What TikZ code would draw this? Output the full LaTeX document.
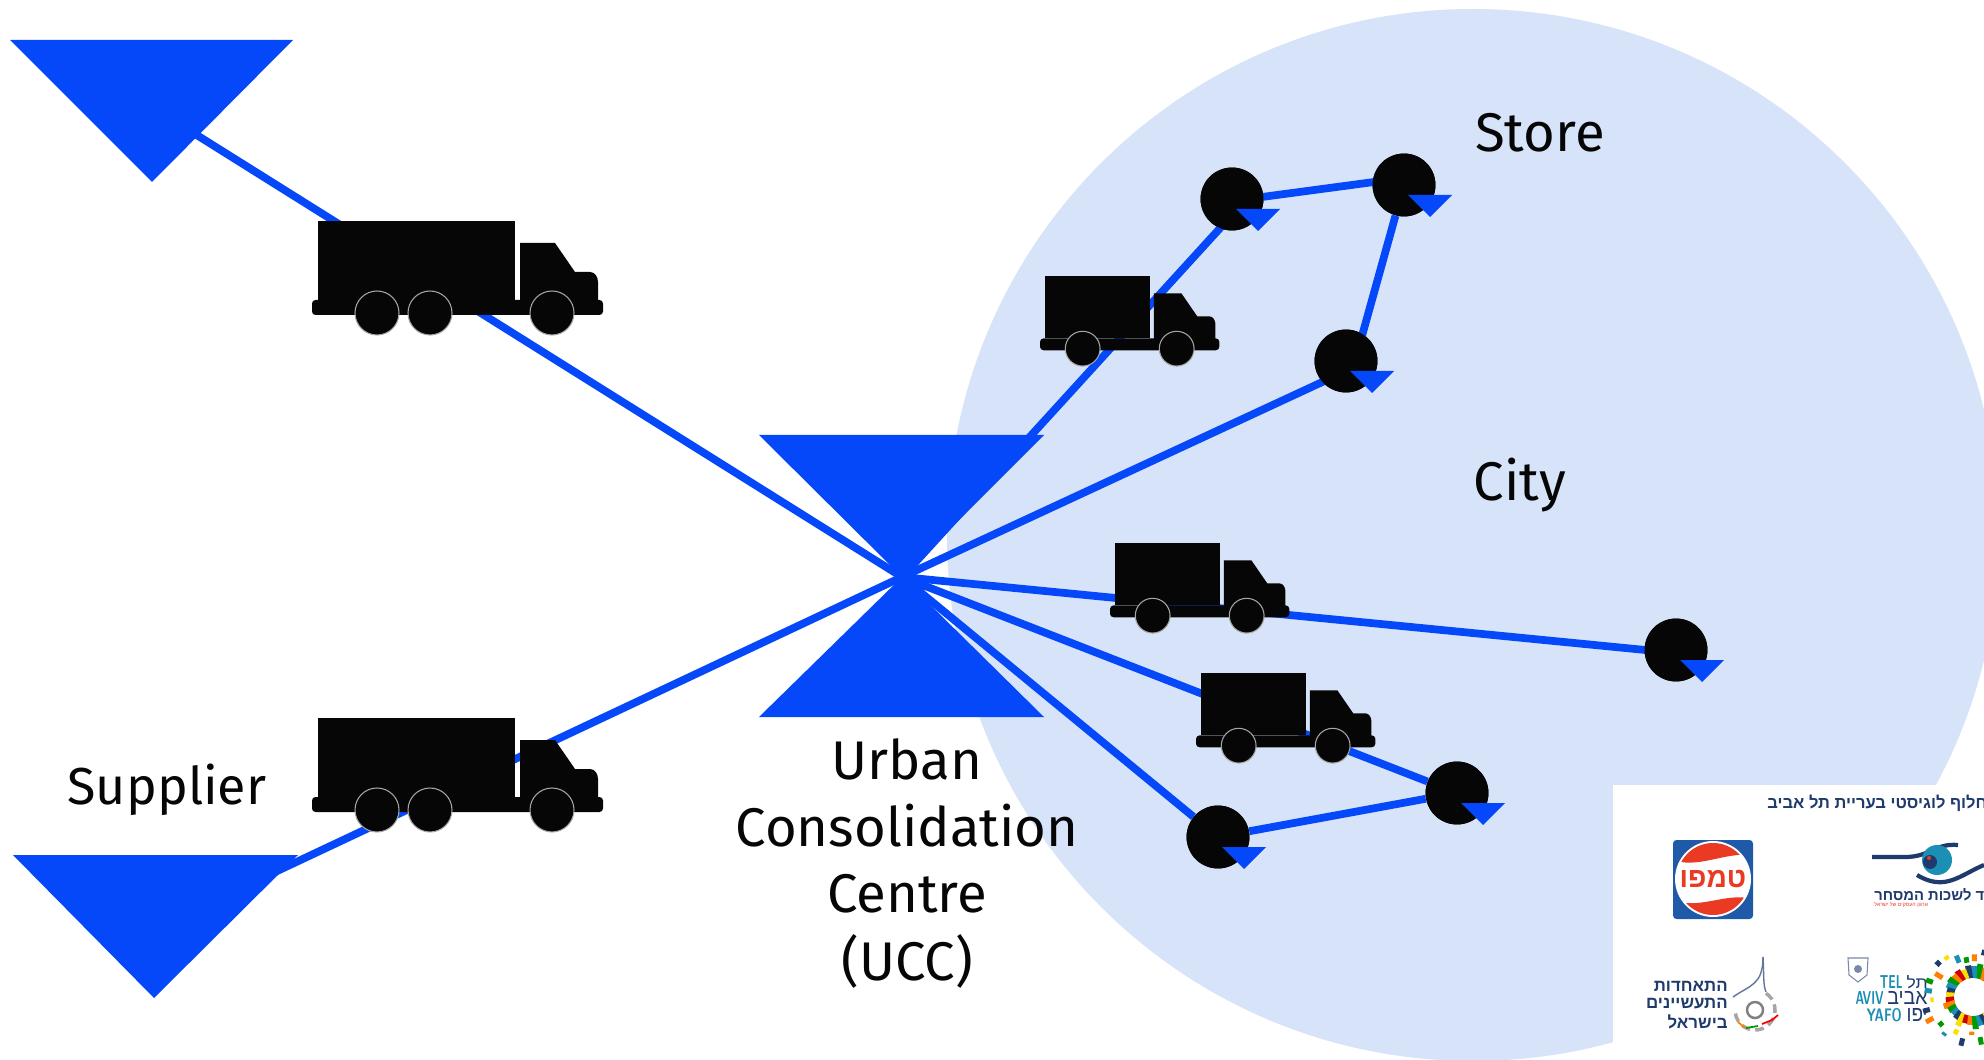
\documentclass[tikz,border=0pt]{standalone}
\usepackage{fontspec}
\usepackage{graphicx}
\setmainfont{Fira Sans}
\newfontfamily\heb[Script=Hebrew]{Liberation Sans}
\TeXXeTstate=1
\definecolor{lineblue}{HTML}{0548FA}
\definecolor{cityblue}{HTML}{D7E3F8}
\definecolor{ink}{HTML}{060606}
\definecolor{navy}{HTML}{1F3B6E}
\definecolor{tealx}{HTML}{1C8FB5}
\definecolor{tempored}{HTML}{EA3A24}
\definecolor{tempoblue}{HTML}{1F5AA8}
\newcommand{\drawtruck}[5]{%
  \begin{scope}[shift={(#1,#2)},scale=#3]
    \fill[ink] (6,0) rectangle (#4+6,79);
    \fill[ink,rounded corners=2pt] (0,79) rectangle (#4+94,94);
    \fill[ink] (#4+11,22) -- (#4+46,22) -- (#4+66,51) -- (#4+81,51) to[out=0,in=90] (#4+89,61) -- (#4+89,80) -- (#4+11,80) -- cycle;
    \foreach \wx in {#5}{\draw[black!35,line width=.6pt,fill=ink] (\wx,92) circle (22);}
  \end{scope}}
\tikzset{
  link/.style={draw=lineblue,line width=4.4pt},
  store/.style={circle,fill=ink,inner sep=0pt,minimum size=35.8pt},
  bigtext/.style={font=\fontsize{31}{31}\selectfont,text=ink,inner sep=0pt,anchor=center},
  hebtext/.style={inner sep=0pt,font=\heb\bfseries},
}
\newcommand{\minitri}[1]{\fill[lineblue] ($(#1)+(4,10)$) -- ($(#1)+(48,10)$) -- ($(#1)+(26,32)$) -- cycle;}
\usetikzlibrary{calc}
\begin{document}
\begin{tikzpicture}[x=0.02cm,y=-0.02cm]
\useasboundingbox (0,0) rectangle (1984,1060);
\clip (0,0) rectangle (1984,1060);
\fill[white] (0,0) rectangle (1984,1060);
% city
\fill[cityblue] (1473,535) circle (526);
% anchors
\coordinate (hub) at (902,577);
\coordinate (supA) at (152,107);
\coordinate (supB) at (154,929);
\node[store] (s1) at (1232,199) {};
\node[store] (s2) at (1404,185) {};
\node[store] (s3) at (1346,361) {};
\node[store] (s4) at (1676,650) {};
\node[store] (s5) at (1457,793) {};
\node[store] (s6) at (1218,837) {};
\coordinate (s1in) at (1243,203);
\coordinate (s1out) at (1232,201);
\coordinate (s2in) at (1404,178);
\coordinate (s3in) at (1355,361);
\coordinate (s3out) at (1346,371);
\coordinate (s4in) at (1676,653);
% links
\draw[link] (supA) -- (hub);
\draw[link] (supB) -- (hub);
\draw[link] (hub) -- (s1in);
\draw[link] (s1out) -- (s2in);
\draw[link] (s2) -- (s3in);
\draw[link] (s3out) -- (hub);
\draw[link] (hub) -- (s4in);
\draw[link] (hub) -- (s5) -- (s6) -- (hub);
% triangles
\fill[lineblue] (10,40) -- (293,40) -- (152,182) -- cycle;
\fill[lineblue] (13,855) -- (298,855) -- (154,998) -- cycle;
\fill[lineblue] (759,435) -- (1044,435) -- (902,577) -- cycle;
\fill[lineblue] (759,717) -- (1044,717) -- (902,577) -- cycle;
% trucks
\drawtruck{312}{221}{1}{197}{65,118,240}
\drawtruck{312}{718}{1}{197}{65,118,240}
\drawtruck{1040}{276}{.79}{133}{54,173}
\drawtruck{1110}{543}{.79}{133}{54,173}
\drawtruck{1196}{673}{.79}{133}{54,173}
% store markers
\foreach \s in {s1,s2,s3,s4,s5,s6}{\node[store] at (\s) {};\minitri{\s}}
% labels
\node[bigtext] (lstore) at (1540,133) {Store};
\node[bigtext] (lcity) at (1520,485) {City};
\node[bigtext,font=\fontsize{29.6}{29.6}\selectfont] (lsup) at (167,790) {Supplier};
\node[bigtext] (lu1) at (907,759) {Urban};
\node[bigtext] (lu2) at (907,826) {Consolidation};
\node[bigtext] (lu3) at (907,894) {Centre};
\node[bigtext] (lu4) at (907,961) {(UCC)};
% panel
\fill[white] (1613,785) rectangle (1984,1060);
\node[hebtext,anchor=west,text=navy,font=\heb\bfseries\fontsize{9.4}{9.4}\selectfont] (ptitle) at (1767,803) {\beginR חלוף לוגיסטי בעריית תל אביב\endR};
% tempo
\fill[tempoblue,rounded corners=2pt] (1673,840) rectangle (1753,919);
\fill[white] (1713,879) circle (38);
\begin{scope}
  \clip (1713,879) circle (36);
  \fill[tempored] (1670,835) -- (1756,835) -- (1756,858) .. controls (1735,846) and (1695,873) .. (1670,858) -- cycle;
  \fill[tempored] (1670,923) -- (1756,923) -- (1756,902) .. controls (1735,887) and (1695,914) .. (1670,898) -- cycle;
\end{scope}
\node[hebtext,text=tempored,font=\heb\bfseries\fontsize{16}{16}\selectfont] (ptempo) at (1713,879) {\beginR טמפו\endR};
% chamber
\draw[navy,line width=2.4pt] (1872,857) -- (1905,857) .. controls (1930,857) and (1935,843) .. (1958,845);
\draw[navy,line width=2.4pt] (1917,875) .. controls (1945,892) and (1960,875) .. (1984,865);
\fill[tealx] (1937,860) circle (15);
\fill[navy] (1930,862) circle (7);
\fill[tempored] (1929,858) circle (2);
\node[hebtext,anchor=west,text=navy,font=\heb\bfseries\fontsize{8.4}{8.4}\selectfont] (pchamber) at (1874,895) {\beginR וד לשכות המסחר\endR};
\node[hebtext,anchor=west,text=tempored,font=\heb\fontsize{3}{3}\selectfont] (pchamber2) at (1874,905) {\beginR ארגון העסקים של ישראל\endR};
% manufacturers
\node[hebtext,anchor=east,text=navy,font=\heb\bfseries\fontsize{9.6}{9.6}\selectfont] (pm1) at (1728,986) {\beginR התאחדות\endR};
\node[hebtext,anchor=east,text=navy,font=\heb\bfseries\fontsize{9.6}{9.6}\selectfont] (pm2) at (1728,1004) {\beginR התעשיינים\endR};
\node[hebtext,anchor=east,text=navy,font=\heb\bfseries\fontsize{9.6}{9.6}\selectfont] (pm3) at (1728,1022) {\beginR בישראל\endR};
\draw[navy!70,line width=.8pt] (1763,957) .. controls (1763,985) and (1750,985) .. (1733,997);
\draw[navy!70,line width=.8pt] (1763,957) .. controls (1764,975) and (1763,985) .. (1766,992);
\draw[gray,line width=1.4pt] (1755,1010) circle (8);
\draw[gray!70,line width=2pt,dash pattern=on 5pt off 3pt] (1755,1010) ++(170:20) arc[start angle=170,end angle=-60,radius=20];
\draw[orange,line width=1pt] (1738,1022) -- (1745,1028);
\draw[green!60!black,line width=1pt] (1746,1028) -- (1758,1026);
\draw[red,line width=1pt] (1762,1024) -- (1772,1020) -- (1778,1015);
% tel aviv
\draw[navy!60,fill=white,line width=.6pt] (1848,958) -- (1868,958) -- (1867,975) -- (1858,982) -- (1849,975) -- cycle;
\fill[navy!60] (1858,969) circle (4);
\node[hebtext,text=tealx,font=\bfseries\sffamily,anchor=east] (pt1) at (1903,982) {\resizebox{13pt}{7.4pt}{TEL}};
\node[hebtext,text=navy,font=\heb,anchor=east] (pt2) at (1928,982) {\resizebox{12pt}{7.4pt}{\beginR תל\endR}};
\node[hebtext,text=tealx,font=\bfseries\sffamily,anchor=east] (pt3) at (1884,998) {\resizebox{16pt}{7.4pt}{AVIV}};
\node[hebtext,text=navy,font=\heb,anchor=east] (pt4) at (1928,998) {\resizebox{23pt}{7.4pt}{\beginR אביב\endR}};
\node[hebtext,text=tealx,font=\bfseries\sffamily,anchor=east] (pt5) at (1902,1015) {\resizebox{20pt}{7.4pt}{YAFO}};
\node[hebtext,text=navy,font=\heb,anchor=east] (pt6) at (1928,1015) {\resizebox{12pt}{7.4pt}{\beginR יפו\endR}};
\pgfmathsetseed{7}
\foreach \a [count=\i] in {0,11,...,352}{
  \pgfmathtruncatemacro{\ci}{mod(\i,6)}
  \ifcase\ci\def\cc{red!80!black}\or\def\cc{orange}\or\def\cc{green!60!black}\or\def\cc{tealx}\or\def\cc{navy}\or\def\cc{yellow!80!orange}\fi
  \pgfmathsetmacro{\ln}{7+rnd*8}
  \fill[\cc,shift={(1973,997)},rotate=\a] (19,-3) rectangle (19+\ln,3);
}
\foreach \a [count=\i] in {4,16,...,352}{
  \pgfmathtruncatemacro{\ci}{mod(\i,5)}
  \ifcase\ci\def\cc{tealx}\or\def\cc{yellow!80!orange}\or\def\cc{navy}\or\def\cc{orange}\or\def\cc{green!60!black}\fi
  \pgfmathsetmacro{\ra}{34+rnd*12}
  \pgfmathsetmacro{\ln}{3+rnd*6}
  \fill[\cc,shift={(1973,997)},rotate=\a] (\ra,-2.5) rectangle (\ra+\ln,2.5);
}
\end{tikzpicture}
\end{document}
